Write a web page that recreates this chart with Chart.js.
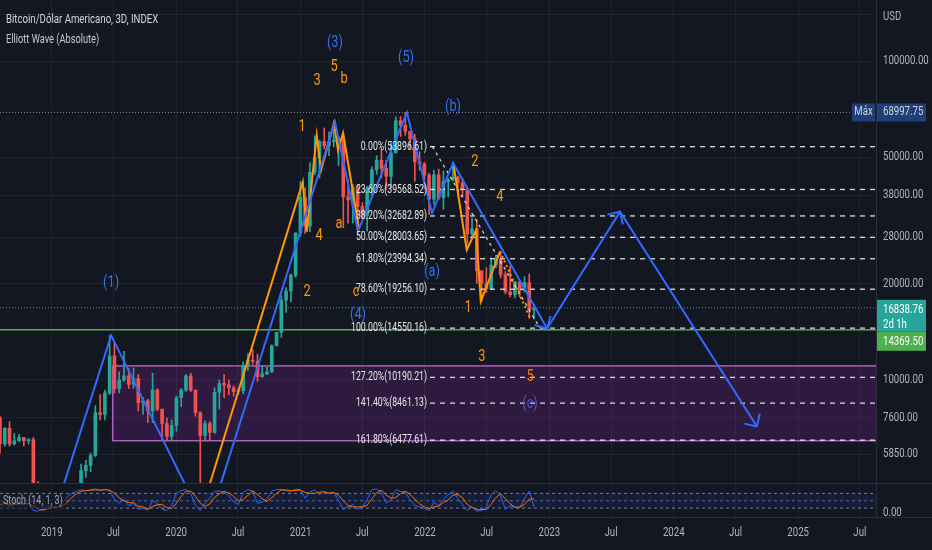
<!DOCTYPE html>
<html>
<head>
<meta charset="utf-8">
<title>Bitcoin/Dólar Americano - Elliott Wave</title>
<script src="https://cdn.jsdelivr.net/npm/chart.js@4.4.1/dist/chart.umd.min.js"></script>
<style>
  html, body { margin: 0; padding: 0; background: #131722; }
  #wrap { position: relative; width: 932px; height: 550px; overflow: hidden; background: #131722; }
  #main { position: absolute; left: 0; top: 0; }
  #stoch { position: absolute; left: 0; top: 484px; }
  .sep { position: absolute; background: #2a2e39; }
</style>
</head>
<body>
<div id="wrap">
  <canvas id="main" width="932" height="483"></canvas>
  <canvas id="stoch" width="932" height="66"></canvas>
  <div class="sep" style="left:0;top:483px;width:932px;height:1px"></div>
  <div class="sep" style="left:0;top:517px;width:932px;height:1px"></div>
</div>
<script>
// ---- data (x = fractional year, y = USD) ----
const xMin = 2018.584;
const xMax = 2025.626;
const xTicks = [2019, 2019.496, 2020, 2020.497, 2021, 2021.496, 2022, 2022.496, 2023, 2023.496, 2024, 2024.497, 2025, 2025.496];
const xTickLabels = ['2019', 'Jul', '2020', 'Jul', '2021', 'Jul', '2022', 'Jul', '2023', 'Jul', '2024', 'Jul', '2025', 'Jul'];
const yTicks = [140000, 100000, 50000, 38000, 28000, 20000, 10000, 7600, 5850];

// 2-week candles starting Aug 1 2018
const candleStart = 2018.584;
const candleStep = 14 / 365.25;
const firstOpen = 7600;
const closes = [6300, 7050, 6300, 6450, 6600, 6450, 6500, 4500, 3900, 3700,
  3850, 3650, 3450, 3600, 3800, 3870, 4000, 5200, 5400, 5800,
  7900, 7800, 9100, 11900, 9400, 10000, 10300, 9700, 10100, 8500,
  8600, 8000, 9300, 8100, 7300, 6650, 7200, 8800, 9300, 10300,
  9300, 7900, 6700, 7300, 6850, 9150, 9750, 9650, 9450, 9200,
  9250, 11100, 11550, 11450, 10250, 10450, 10600, 12800, 14100, 17800,
  19000, 21300, 28900, 37400, 30400, 44800, 49700, 55900, 54300, 56000,
  56500, 57300, 37500, 36700, 40200, 35000, 32800, 39900, 45600, 48900,
  46100, 43500, 51500, 65000, 62900, 60300, 57000, 48300, 47600, 43900,
  36900, 44000, 37300, 41900, 42400, 43200, 41500, 39700, 28700, 29800,
  22000, 20100, 19300, 22900, 23900, 21400, 18900, 18500, 20300, 19100,
  20200, 16600, 16838.76];
const highs = [7700, 7100, 7400, 6800, 6750, 6600, 6550, 6600, 4800, 3900,
  4200, 4100, 3700, 3700, 4200, 3950, 4100, 5450, 5600, 5900,
  8300, 9000, 9300, 13800, 13100, 10600, 12300, 10900, 10900, 10400,
  8800, 8700, 10500, 9400, 8100, 7600, 7500, 8900, 9400, 10400,
  10500, 9300, 7950, 7450, 7400, 9450, 10000, 10400, 10000, 9600,
  9450, 11400, 12100, 12450, 12050, 11100, 10950, 12900, 14100, 18400,
  19500, 21500, 28900, 41900, 40000, 48000, 58300, 56500, 61700, 60000,
  64800, 58000, 59500, 42500, 41000, 41000, 36000, 40500, 46600, 50500,
  52900, 48800, 55700, 66900, 67000, 69000, 59800, 59000, 52000, 48100,
  44500, 45500, 45800, 45200, 42900, 48200, 43600, 42900, 40000, 32200,
  31800, 22000, 22500, 24200, 24600, 25200, 21900, 22800, 20400, 20500,
  21100, 21500, 17200];
const lows = [5900, 6200, 6200, 6250, 6400, 6200, 6300, 4300, 3500, 3150,
  3600, 3500, 3400, 3350, 3550, 3700, 3850, 4000, 4950, 5150,
  5750, 7500, 7500, 9000, 9100, 9100, 9900, 9400, 9400, 8000,
  7800, 7350, 7350, 8000, 6500, 6450, 6450, 6900, 8250, 9200,
  9200, 7700, 3850, 6500, 6500, 6800, 8100, 8800, 9000, 8900,
  9000, 9050, 10700, 11200, 9900, 10200, 10400, 10550, 12800, 13600,
  16300, 17600, 21000, 28200, 28800, 29200, 44000, 43000, 53000, 50500,
  53800, 47000, 30000, 31000, 31100, 28800, 32000, 29300, 37400, 44200,
  43000, 39600, 40000, 53000, 58000, 58500, 53300, 42000, 45500, 39700,
  33000, 35600, 36800, 34300, 37600, 42000, 38500, 37600, 26700, 28100,
  20100, 17600, 18800, 20800, 22500, 20900, 18600, 18200, 18100, 18200,
  18900, 15600, 15500];

// Stoch (14, 1, 3) on the same candles
const stochK = [30, 45, 25, 35, 50, 30, 40, 10, 8, 15,
  30, 25, 20, 40, 65, 80, 88, 95, 90, 95,
  98, 90, 96, 92, 55, 40, 55, 30, 40, 15,
  20, 12, 50, 40, 15, 10, 30, 80, 92, 95,
  80, 30, 10, 40, 60, 88, 90, 85, 70, 45,
  35, 85, 95, 90, 40, 45, 55, 90, 95, 96,
  90, 88, 97, 95, 60, 85, 95, 75, 88, 80,
  85, 50, 15, 25, 35, 15, 25, 55, 95, 98,
  85, 40, 55, 95, 88, 85, 55, 30, 25, 20,
  10, 45, 30, 55, 75, 90, 60, 35, 10, 25,
  8, 10, 25, 75, 90, 70, 15, 30, 25, 20,
  60, 90, 25];
const stochD = [35, 38, 33, 35, 37, 38, 40, 27, 19, 11,
  18, 23, 25, 28, 42, 62, 78, 88, 91, 93,
  94, 94, 95, 93, 81, 62, 50, 42, 42, 28,
  25, 16, 27, 34, 35, 22, 18, 40, 67, 89,
  89, 68, 40, 27, 37, 63, 79, 88, 82, 67,
  50, 55, 72, 90, 75, 58, 47, 63, 80, 94,
  94, 91, 92, 93, 84, 80, 80, 85, 86, 81,
  84, 72, 50, 30, 25, 25, 25, 32, 58, 83,
  93, 74, 60, 63, 79, 89, 76, 57, 37, 25,
  18, 25, 28, 43, 53, 73, 75, 62, 35, 23,
  14, 14, 14, 36, 63, 78, 58, 38, 23, 25,
  35, 57, 58];

// Elliott waves
const blueWaveT = [2018.955, 2019.477, 2020.246, 2021.277, 2021.462, 2021.855, 2022.057, 2022.226, 2022.982, 2023.568, 2024.669];
const blueWaveP = [3150, 13800, 3430, 64400, 29300, 69000, 33400, 47900, 14500, 33700, 7150];
const orangeAT = [2020.19, 2021.018, 2021.050, 2021.130, 2021.165, 2021.269, 2021.301, 2021.342, 2021.470];
const orangeAP = [3730, 41800, 29200, 58600, 45500, 63900, 52600, 59500, 29800];
const orangeBT = [2022.228, 2022.336, 2022.411, 2022.449, 2022.604];
const orangeBP = [47900, 25600, 29500, 17600, 25300];
const orangeDotT = [2022.604, 2022.845];
const orangeDotP = [25300, 15650];

const blueLabels = [
  { t: 2019.477, p: 20100, text: '(1)' },
  { t: 2021.277, p: 113900, text: '(3)' },
  { t: 2021.848, p: 102200, text: '(5)' },
  { t: 2022.226, p: 71800, text: '(b)' },
  { t: 2021.462, p: 15990, text: '(4)' },
  { t: 2022.057, p: 21810, text: '(a)' },
  { t: 2022.845, p: 8410, text: '(c)' }
];
const orangeLabels = [
  { t: 2021.133, p: 86500, text: '3' },
  { t: 2021.269, p: 95760, text: '5' },
  { t: 2021.350, p: 87850, text: 'b' },
  { t: 2021.012, p: 62100, text: '1' },
  { t: 2021.149, p: 28280, text: '4' },
  { t: 2021.309, p: 30830, text: 'a' },
  { t: 2021.052, p: 18880, text: '2' },
  { t: 2021.446, p: 18880, text: 'c' },
  { t: 2022.402, p: 48250, text: '2' },
  { t: 2022.603, p: 37470, text: '4' },
  { t: 2022.346, p: 16820, text: '1' },
  { t: 2022.458, p: 11810, text: '3' },
  { t: 2022.845, p: 10220, text: '5' }
];

// Fibonacci retracement
const fibStartT = 2022.041;
const fibRatios = [0, 23.6, 38.2, 50, 61.8, 78.6, 100, 127.2, 141.4, 161.8];
const fibPrices = [53896.61, 39568.52, 32682.89, 28003.65, 23994.34, 19256.10, 14550.16, 10190.21, 8461.13, 6477.61];
const fibDiagT = [2022.06, 2022.925];
const fibDiagP = [53896.61, 14550.16];

// range box and price lines
const boxStartT = 2019.49;
const boxTop = 11070;
const boxBottom = 6450;
const maxPrice = 68997.75;
const lastPrice = 16838.76;
const greenLevel = 14369.50;
const countdown = '2d 1h';

// ---- helpers ----
const FONT = 'Roboto, "Liberation Sans", sans-serif';
const gridColor = 'rgba(42,46,57,0.55)';
const textColor = '#b2b5be';
const up = '#26a69a';
const down = '#ef5350';

const candleT = closes.map((c, i) => candleStart + i * candleStep);
const opens = closes.map((c, i) => i === 0 ? firstOpen : closes[i - 1]);
const pts = (ts, ps) => ts.map((t, i) => ({ x: t, y: ps[i] }));
const hline = v => [{ x: xMin, y: v }, { x: xMax, y: v }];
const candleColor = ctx => {
  const i = ctx.dataIndex;
  return closes[i] >= opens[i] ? up : down;
};

const lineDs = (data, color, width, dash) => ({
  type: 'line', data: data, borderColor: color, borderWidth: width,
  borderDash: dash || [], pointRadius: 0, fill: false, tension: 0
});

// the chart text is tall and narrow, so squeeze it sideways
function text(ctx, str, x, y, align, size, color, sx) {
  ctx.save();
  ctx.font = size + 'px ' + FONT;
  ctx.fillStyle = color;
  ctx.textAlign = align;
  ctx.textBaseline = 'middle';
  ctx.translate(x, y);
  ctx.scale(sx, 1);
  ctx.fillText(str, 0, 0);
  ctx.restore();
}

const fibDatasets = fibPrices.map(p => lineDs([{ x: fibStartT, y: p }, { x: xMax, y: p }], 'rgba(255,255,255,0.85)', 1.3, [5, 5]));

const boxPlugin = {
  id: 'rangeBox',
  beforeDatasetsDraw(chart) {
    const { ctx, chartArea, scales } = chart;
    const x0 = scales.x.getPixelForValue(boxStartT);
    const y0 = scales.y.getPixelForValue(boxTop);
    const y1 = scales.y.getPixelForValue(boxBottom);
    ctx.save();
    ctx.beginPath();
    ctx.rect(chartArea.left, chartArea.top, chartArea.width, chartArea.height);
    ctx.clip();
    ctx.fillStyle = 'rgba(156,39,176,0.2)';
    ctx.fillRect(x0, y0, chartArea.right - x0, y1 - y0);
    ctx.strokeStyle = 'rgba(186,104,200,0.9)';
    ctx.lineWidth = 1.5;
    ctx.strokeRect(x0, y0, chartArea.right - x0 + 5, y1 - y0);
    ctx.restore();
  }
};

function arrowHead(ctx, xa, ya, xb, yb) {
  const ang = Math.atan2(yb - ya, xb - xa) + Math.PI;
  [ang - Math.PI / 4, ang + Math.PI / 4].forEach(a => {
    ctx.beginPath();
    ctx.moveTo(xb, yb);
    ctx.lineTo(xb + 13 * Math.cos(a), yb + 13 * Math.sin(a));
    ctx.stroke();
  });
}

function axisLabels(chart, yFmt) {
  const { ctx, scales, chartArea } = chart;
  scales.y.ticks.forEach(t => {
    const s = yFmt(t.value);
    if (s) text(ctx, s, chartArea.right + 7, scales.y.getPixelForValue(t.value), 'left', 12, textColor, 0.8);
  });
}

const overlayPlugin = {
  id: 'overlay',
  afterDatasetsDraw(chart) {
    const { ctx, scales } = chart;
    const X = t => scales.x.getPixelForValue(t);
    const Y = p => scales.y.getPixelForValue(p);
    ctx.save();

    // arrow heads on the projected path
    ctx.strokeStyle = '#2f6bff';
    ctx.lineWidth = 2;
    [8, 9, 10].forEach(i => {
      arrowHead(ctx, X(blueWaveT[i - 1]), Y(blueWaveP[i - 1]), X(blueWaveT[i]), Y(blueWaveP[i]));
    });
    ctx.restore();

    // fib labels
    fibRatios.forEach((r, i) => {
      text(ctx, r.toFixed(2) + '%(' + fibPrices[i].toFixed(2) + ')', X(fibStartT) - 3, Y(fibPrices[i]), 'right', 12.5, '#e6e6e6', 0.7);
    });

    // wave labels
    blueLabels.forEach(l => {
      text(ctx, l.text, X(l.t), Y(l.p), 'center', 16, l.text === '(c)' ? '#5257d6' : '#3170f0', 0.8);
    });
    orangeLabels.forEach((l, i) => {
      text(ctx, l.text, X(l.t), Y(l.p), 'center', 16, i === orangeLabels.length - 1 ? '#f57c00' : '#ff9800', 0.8);
    });

    // legend text top-left
    text(ctx, 'Bitcoin/Dólar Americano, 3D, INDEX', 6, 20, 'left', 13, '#d1d4dc', 0.74);
    text(ctx, 'Elliott Wave (Absolute)', 6, 40, 'left', 12.5, '#c8cad0', 0.74);
  },
  afterDraw(chart) {
    const { ctx, scales, chartArea } = chart;
    const Y = p => scales.y.getPixelForValue(p);
    const ax = chartArea.right;
    axisLabels(chart, v => v === 140000 ? '' : v.toFixed(2));
    text(ctx, 'USD', ax + 7, 17, 'left', 12, textColor, 0.8);

    // Max tag
    const ym = Y(maxPrice);
    ctx.save();
    ctx.fillStyle = '#1e3f78';
    ctx.fillRect(ax - 24, ym - 9, 23, 18);
    ctx.fillRect(ax + 1, ym - 9, 49, 18);
    ctx.restore();
    text(ctx, 'Máx', ax - 12.5, ym, 'center', 12, '#d1d4dc', 0.8);
    text(ctx, maxPrice.toFixed(2), ax + 7, ym, 'left', 12, '#d1d4dc', 0.8);

    // last price + countdown
    const yl = Y(lastPrice);
    ctx.save();
    ctx.fillStyle = up;
    ctx.fillRect(ax + 1, yl - 8, 49, 32);
    ctx.fillStyle = '#4caf50';
    ctx.fillRect(ax + 1, yl + 24, 49, 19);
    ctx.restore();
    text(ctx, lastPrice.toFixed(2), ax + 7, yl + 2, 'left', 12, '#ffffff', 0.8);
    text(ctx, countdown, ax + 7, yl + 17, 'left', 12, '#ffffff', 0.8);
    text(ctx, greenLevel.toFixed(2), ax + 7, yl + 34, 'left', 12, '#ffffff', 0.8);
  }
};

const xScale = (h) => ({
  type: 'linear',
  min: xMin,
  max: xMax,
  offset: false,
  bounds: 'data',
  afterBuildTicks: s => { s.ticks = xTicks.map(v => ({ value: v })); },
  ticks: { display: false },
  grid: { color: gridColor, drawTicks: false, offset: false },
  border: { display: false },
  afterFit: s => { s.height = h; s.paddingLeft = 0; s.paddingRight = 0; }
});

new Chart(document.getElementById('main'), {
  type: 'line',
  data: {
    datasets: [
      lineDs(pts(blueWaveT, blueWaveP), '#2f6bff', 2),
      lineDs(pts(orangeAT, orangeAP), '#ff9800', 2),
      lineDs(pts(orangeBT, orangeBP), '#ff9800', 2),
      lineDs(pts(orangeDotT, orangeDotP), '#ff9800', 2, [2, 3]),
      lineDs(pts(fibDiagT, fibDiagP), 'rgba(255,255,255,0.8)', 1.3, [3, 4]),
      ...fibDatasets,
      lineDs(hline(greenLevel), '#4caf50', 1.5),
      lineDs(hline(lastPrice), up, 1, [1, 2]),
      lineDs(hline(maxPrice), 'rgba(200,200,210,0.6)', 1, [1, 2]),
      {
        type: 'bar', grouped: false, barThickness: 3,
        data: candleT.map((t, i) => ({ x: t, y: [opens[i], closes[i]] })),
        backgroundColor: candleColor
      },
      {
        type: 'bar', grouped: false, barThickness: 1,
        data: candleT.map((t, i) => ({ x: t, y: [lows[i], highs[i]] })),
        backgroundColor: candleColor
      }
    ]
  },
  options: {
    responsive: false,
    animation: false,
    events: [],
    layout: { padding: 0 },
    plugins: { legend: { display: false }, tooltip: { enabled: false } },
    scales: {
      x: xScale(0),
      y: {
        type: 'logarithmic',
        position: 'right',
        min: 4753,
        max: 155400,
        bounds: 'data',
        afterBuildTicks: s => { s.ticks = yTicks.map(v => ({ value: v })); },
        ticks: { display: false },
        grid: { color: gridColor, drawTicks: false },
        border: { display: true, color: '#2a2e39' },
        afterFit: s => { s.width = 56; s.paddingTop = 0; s.paddingBottom = 0; }
      }
    }
  },
  plugins: [boxPlugin, overlayPlugin]
});

const stochText = {
  id: 'stochText',
  afterDatasetsDraw(chart) {
    const { ctx, chartArea, scales } = chart;
    ctx.save();
    ctx.fillStyle = 'rgba(19,23,34,0.55)';
    ctx.fillRect(0, chartArea.top + 10, 66, 15);
    ctx.restore();
    text(ctx, 'Stoch (14, 1, 3)', 3, chartArea.top + 17, 'left', 12, 'rgba(178,181,190,0.9)', 0.75);
  },
  afterDraw(chart) {
    const { ctx, chartArea, scales } = chart;
    axisLabels(chart, v => v.toFixed(2));
    xTicks.forEach((v, i) => {
      text(ctx, xTickLabels[i], scales.x.getPixelForValue(v), chartArea.bottom + 16, 'center', 12, textColor, 0.8);
    });
  }
};

new Chart(document.getElementById('stoch'), {
  type: 'line',
  data: {
    datasets: [
      lineDs(pts(candleT, stochD), '#ff6d00', 1),
      lineDs(pts(candleT, stochK), '#2962ff', 1),
      Object.assign(lineDs(hline(80), 'rgba(150,153,164,0.8)', 1, [3, 3]), {
        fill: { value: 20 }, backgroundColor: 'rgba(41,98,255,0.1)'
      }),
      lineDs(hline(50), 'rgba(150,153,164,0.6)', 1, [3, 3]),
      lineDs(hline(20), 'rgba(150,153,164,0.8)', 1, [3, 3])
    ]
  },
  options: {
    responsive: false,
    animation: false,
    events: [],
    layout: { padding: 0 },
    plugins: { legend: { display: false }, tooltip: { enabled: false } },
    scales: {
      x: xScale(33),
      y: {
        type: 'linear',
        position: 'right',
        min: -16,
        max: 118,
        afterBuildTicks: s => { s.ticks = [{ value: 0 }]; },
        ticks: { display: false },
        grid: { display: false, drawTicks: false },
        border: { display: true, color: '#2a2e39' },
        afterFit: s => { s.width = 56; s.paddingTop = 0; s.paddingBottom = 0; }
      }
    }
  },
  plugins: [stochText]
});
</script>
</body>
</html>
